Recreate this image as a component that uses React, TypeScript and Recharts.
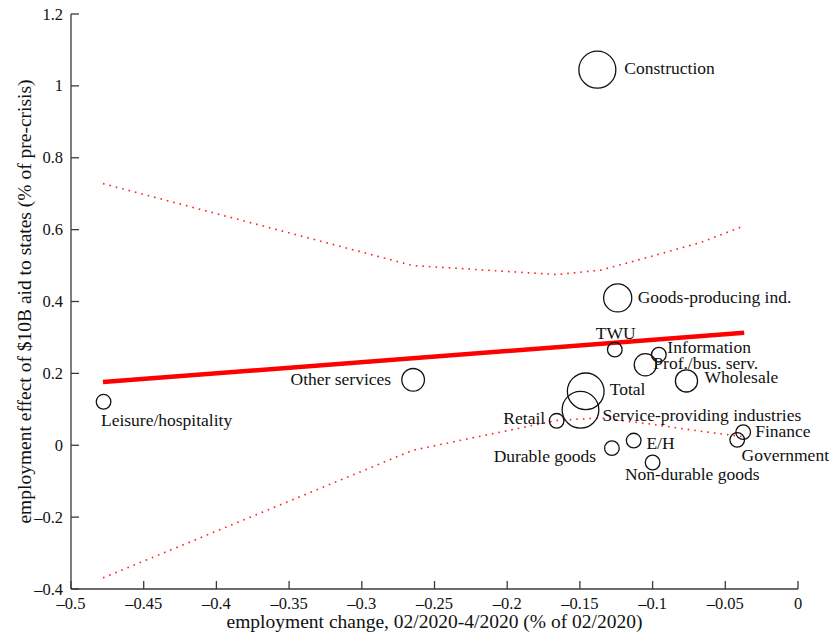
import React from 'react'
import { ComposedChart, Scatter, XAxis, YAxis, ZAxis, Label } from 'recharts'

// Sector bubbles: employment change vs. estimated effect of state aid
const sectors = [
  'Construction', 'Goods-producing ind.', 'TWU', 'Information', 'Prof./bus. serv.',
  'Wholesale', 'Total', 'Service-providing industries', 'Retail', 'Finance',
  'Government', 'E/H', 'Durable goods', 'Non-durable goods', 'Other services',
  'Leisure/hospitality',
]
const empChange = [
  -0.138, -0.124, -0.126, -0.0957, -0.105,
  -0.0767, -0.146, -0.1496, -0.166, -0.0377,
  -0.0418, -0.113, -0.128, -0.1, -0.2647,
  -0.4776,
]
const aidEffect = [
  1.045, 0.41, 0.266, 0.252, 0.224,
  0.179, 0.15, 0.0986, 0.068, 0.0365,
  0.015, 0.013, -0.008, -0.048, 0.182,
  0.121,
]
const sectorWeight = [
  6.4, 3.7, 1, 1, 2.3,
  2.3, 6.3, 6.3, 1, 1,
  1, 1, 1, 1, 2.4,
  1,
]

// fitted line and its confidence band
const fitX = [-0.478, -0.037]
const fitY = [0.176, 0.313]
const bandX = [-0.478, -0.265, -0.166, -0.136, -0.1015, -0.067, -0.038]
const bandUpper = [0.728, 0.5, 0.475, 0.487, 0.525, 0.564, 0.609]
const bandLower = [-0.369, -0.014, 0.069, 0.076, 0.059, 0.039, 0.024]

const xTicks = [-0.5, -0.45, -0.4, -0.35, -0.3, -0.25, -0.2, -0.15, -0.1, -0.05, 0]
const yTicks = [-0.4, -0.2, 0, 0.2, 0.4, 0.6, 0.8, 1, 1.2]

const bubbles = sectors.map((name, i) => ({
  name, x: empChange[i], y: aidEffect[i], w: sectorWeight[i],
}))
const fitLine = fitX.map((x, i) => ({ x, y: fitY[i] }))
const upperLine = bandX.map((x, i) => ({ x, y: bandUpper[i] }))
const lowerLine = bandX.map((x, i) => ({ x, y: bandLower[i] }))

// where each sector name sits relative to its bubble centre
const labelPlacement: Record<string, [number, number, 'start' | 'middle' | 'end']> = {
  'Construction': [27, -2, 'start'],
  'Goods-producing ind.': [20, -1, 'start'],
  'TWU': [1, -17, 'middle'],
  'Information': [8.5, -7.5, 'start'],
  'Prof./bus. serv.': [8, -1.5, 'start'],
  'Wholesale': [18, -3.5, 'start'],
  'Total': [24, -2, 'start'],
  'Service-providing industries': [22, 5, 'start'],
  'Retail': [-11.5, -2.5, 'end'],
  'Finance': [12, -1, 'start'],
  'Government': [4.3, 14.7, 'start'],
  'E/H': [12.7, 2, 'start'],
  'Durable goods': [-15.7, 8, 'end'],
  'Non-durable goods': [-27.7, 12, 'start'],
  'Other services': [-22, -1, 'end'],
  'Leisure/hospitality': [-2.6, 18, 'start'],
}

const serif = '"Liberation Serif", "Times New Roman", serif'
const axisColor = '#3a3a3a'
const ink = '#111'

const fmt = (v: number) => String(v).replace('-', '\u2013')

const Bubble = (props: any) => {
  const { cx, cy, payload } = props
  const r = props.width ? props.width / 2 : Math.sqrt((props.size ?? 0) / Math.PI)
  const [dx, dy, anchor] = labelPlacement[payload.name] ?? [10, 0, 'start']
  return (
    <g>
      <circle cx={cx} cy={cy} r={r} fill="none" stroke={ink} strokeWidth={1.3} />
      <text x={cx + dx} y={cy + dy} dy="0.34em" textAnchor={anchor}
        fontFamily={serif} fontSize={17.5} fill={ink}>
        {payload.name}
      </text>
    </g>
  )
}

const NoDot = () => <g />

const XTick = ({ x, y, payload }: any) => (
  <g>
    <line x1={x} x2={x} y1={y} y2={y - 8} stroke={axisColor} strokeWidth={1.3} />
    <text x={x} y={y + 20} textAnchor="middle" fontFamily={serif} fontSize={16.5} fill={ink}>
      {fmt(payload.value)}
    </text>
  </g>
)

const YTick = ({ x, y, payload }: any) => (
  <g>
    <line x1={x + 8} x2={x + 16} y1={y} y2={y} stroke={axisColor} strokeWidth={1.3} />
    <text x={x} y={y} dy="0.34em" textAnchor="end" fontFamily={serif} fontSize={16.5} fill={ink}>
      {fmt(payload.value)}
    </text>
  </g>
)

const XTitle = ({ viewBox }: any) => (
  <text x={viewBox.x + viewBox.width / 2} y={628} textAnchor="middle"
    fontFamily={serif} fontSize={19.5} fill={ink}>
    employment change, 02/2020-4/2020 (% of 02/2020)
  </text>
)

const YTitle = ({ viewBox }: any) => {
  const cy = viewBox.y + viewBox.height / 2
  return (
    <text x={31} y={cy} transform={`rotate(-90, 31, ${cy})`} textAnchor="middle"
      fontFamily={serif} fontSize={19.5} fill={ink}>
      employment effect of $10B aid to states (% of pre-crisis)
    </text>
  )
}

export default function App() {
  return (
    <div style={{ position: 'absolute', left: 0, top: 0, background: '#fff' }}>
      <ComposedChart width={831} height={637} margin={{ top: 14, right: 33, bottom: 0, left: 0 }}>
        <XAxis dataKey="x" type="number" domain={[-0.5, 0]} ticks={xTicks} interval={0}
          height={48} tickSize={0} tickMargin={0} tick={<XTick />} tickLine={false}
          axisLine={{ stroke: axisColor, strokeWidth: 1.3 }}>
          <Label content={<XTitle />} />
        </XAxis>
        <YAxis dataKey="y" type="number" domain={[-0.4, 1.2]} ticks={yTicks} interval={0}
          width={71} tickSize={0} tickMargin={8} tick={<YTick />} tickLine={false}
          axisLine={{ stroke: axisColor, strokeWidth: 1.3 }}>
          <Label content={<YTitle />} />
        </YAxis>
        <ZAxis dataKey="w" type="number" domain={[0, 6.4]} range={[0, 1075]} />

        <Scatter data={upperLine} shape={<NoDot />} isAnimationActive={false} legendType="none"
          line={{ stroke: '#ff2020', strokeWidth: 1.6, strokeDasharray: '1.6 5' }} />
        <Scatter data={lowerLine} shape={<NoDot />} isAnimationActive={false} legendType="none"
          line={{ stroke: '#ff2020', strokeWidth: 1.6, strokeDasharray: '1.6 5' }} />
        <Scatter data={fitLine} shape={<NoDot />} isAnimationActive={false} legendType="none"
          line={{ stroke: '#ff0000', strokeWidth: 4.5 }} />
        <Scatter data={bubbles} shape={<Bubble />} isAnimationActive={false} legendType="none" />
      </ComposedChart>
    </div>
  )
}
